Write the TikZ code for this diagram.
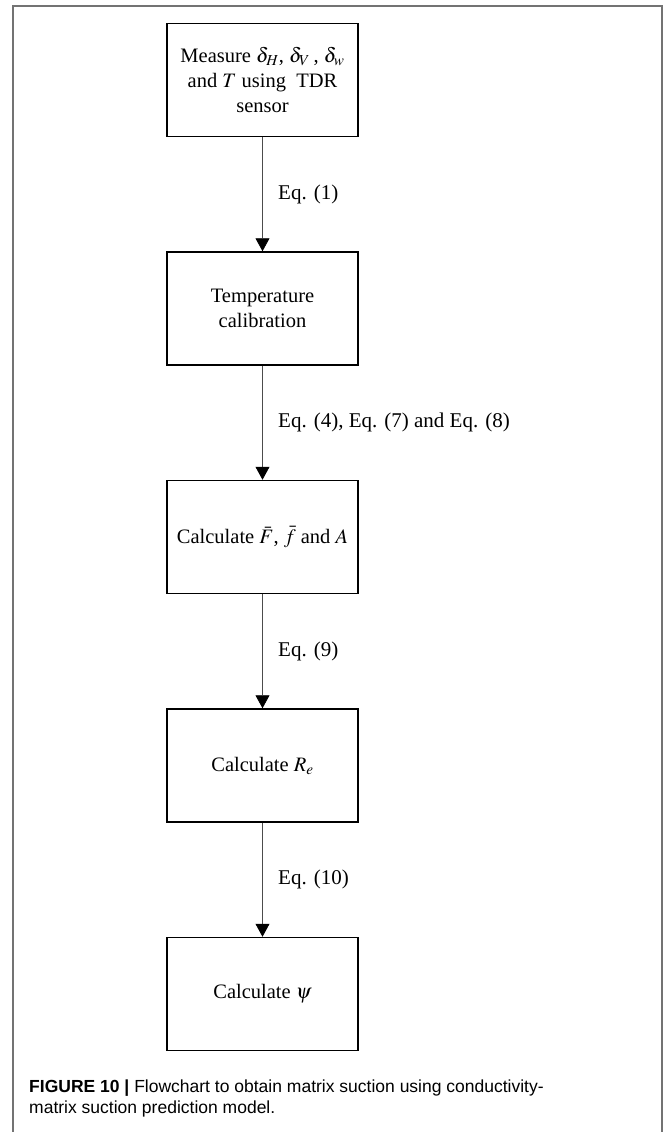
\documentclass[tikz,border=0pt]{standalone}
\usepackage{mathptmx}
\usepackage{fontspec}
\setmainfont{Liberation Serif}
\setsansfont{Liberation Sans}
\usetikzlibrary{arrows.meta, positioning}

\tikzset{
  stepbox/.style={draw, line width=1.5pt, minimum width=191pt, minimum height=113pt,
    align=center, font=\fontsize{20.5}{25}\selectfont, inner sep=4pt},
  flowarrow/.style={draw=black!70, line width=0.8pt, -{Triangle[width=14pt,length=13pt,black]}},
  eqlabel/.style={midway, right, xshift=12pt, font=\fontsize{21}{25}\selectfont},
  frameline/.style={draw=black!55, line width=1.4pt}
}

\begin{document}
\begin{tikzpicture}[x=1pt, y=-1pt, node distance=114pt]
  \useasboundingbox (0,0) rectangle (665,1132);
  % frame
  \draw[frameline] (13,1132) -- (13,6) -- (662,6) -- (662,1132);
  % boxes
  \node[stepbox] (measure) at (262.5,80) {Measure $\delta_H$, $\delta_V$\,, $\delta_w$\\ and $T$ using\ \ TDR\\ sensor};
  \node[stepbox, below=of measure] (tcal) {Temperature\\ calibration};
  \node[stepbox, below=of tcal] (calcF) {Calculate $\bar{F}$, $\bar{f}$ and $A$};
  \node[stepbox, below=of calcF] (calcR) {Calculate $R_e$};
  \node[stepbox, below=of calcR] (calcpsi) {Calculate $\psi$};
  % arrows
  \draw[flowarrow] (measure) -- node[eqlabel] {Eq. (1)} (tcal);
  \draw[flowarrow] (tcal) -- node[eqlabel] {Eq. (4), Eq. (7) and Eq. (8)} (calcF);
  \draw[flowarrow] (calcF) -- node[eqlabel] {Eq. (9)} (calcR);
  \draw[flowarrow] (calcR) -- node[eqlabel] {Eq. (10)} (calcpsi);
  % caption
  \node[anchor=north west, align=left, inner sep=0pt, font=\sffamily\fontsize{17.5}{20.5}\selectfont]
    (caption) at (29,1080) {\textbf{FIGURE 10 |} Flowchart to obtain matrix suction using conductivity-\\ matrix suction prediction model.};
\end{tikzpicture}
\end{document}
